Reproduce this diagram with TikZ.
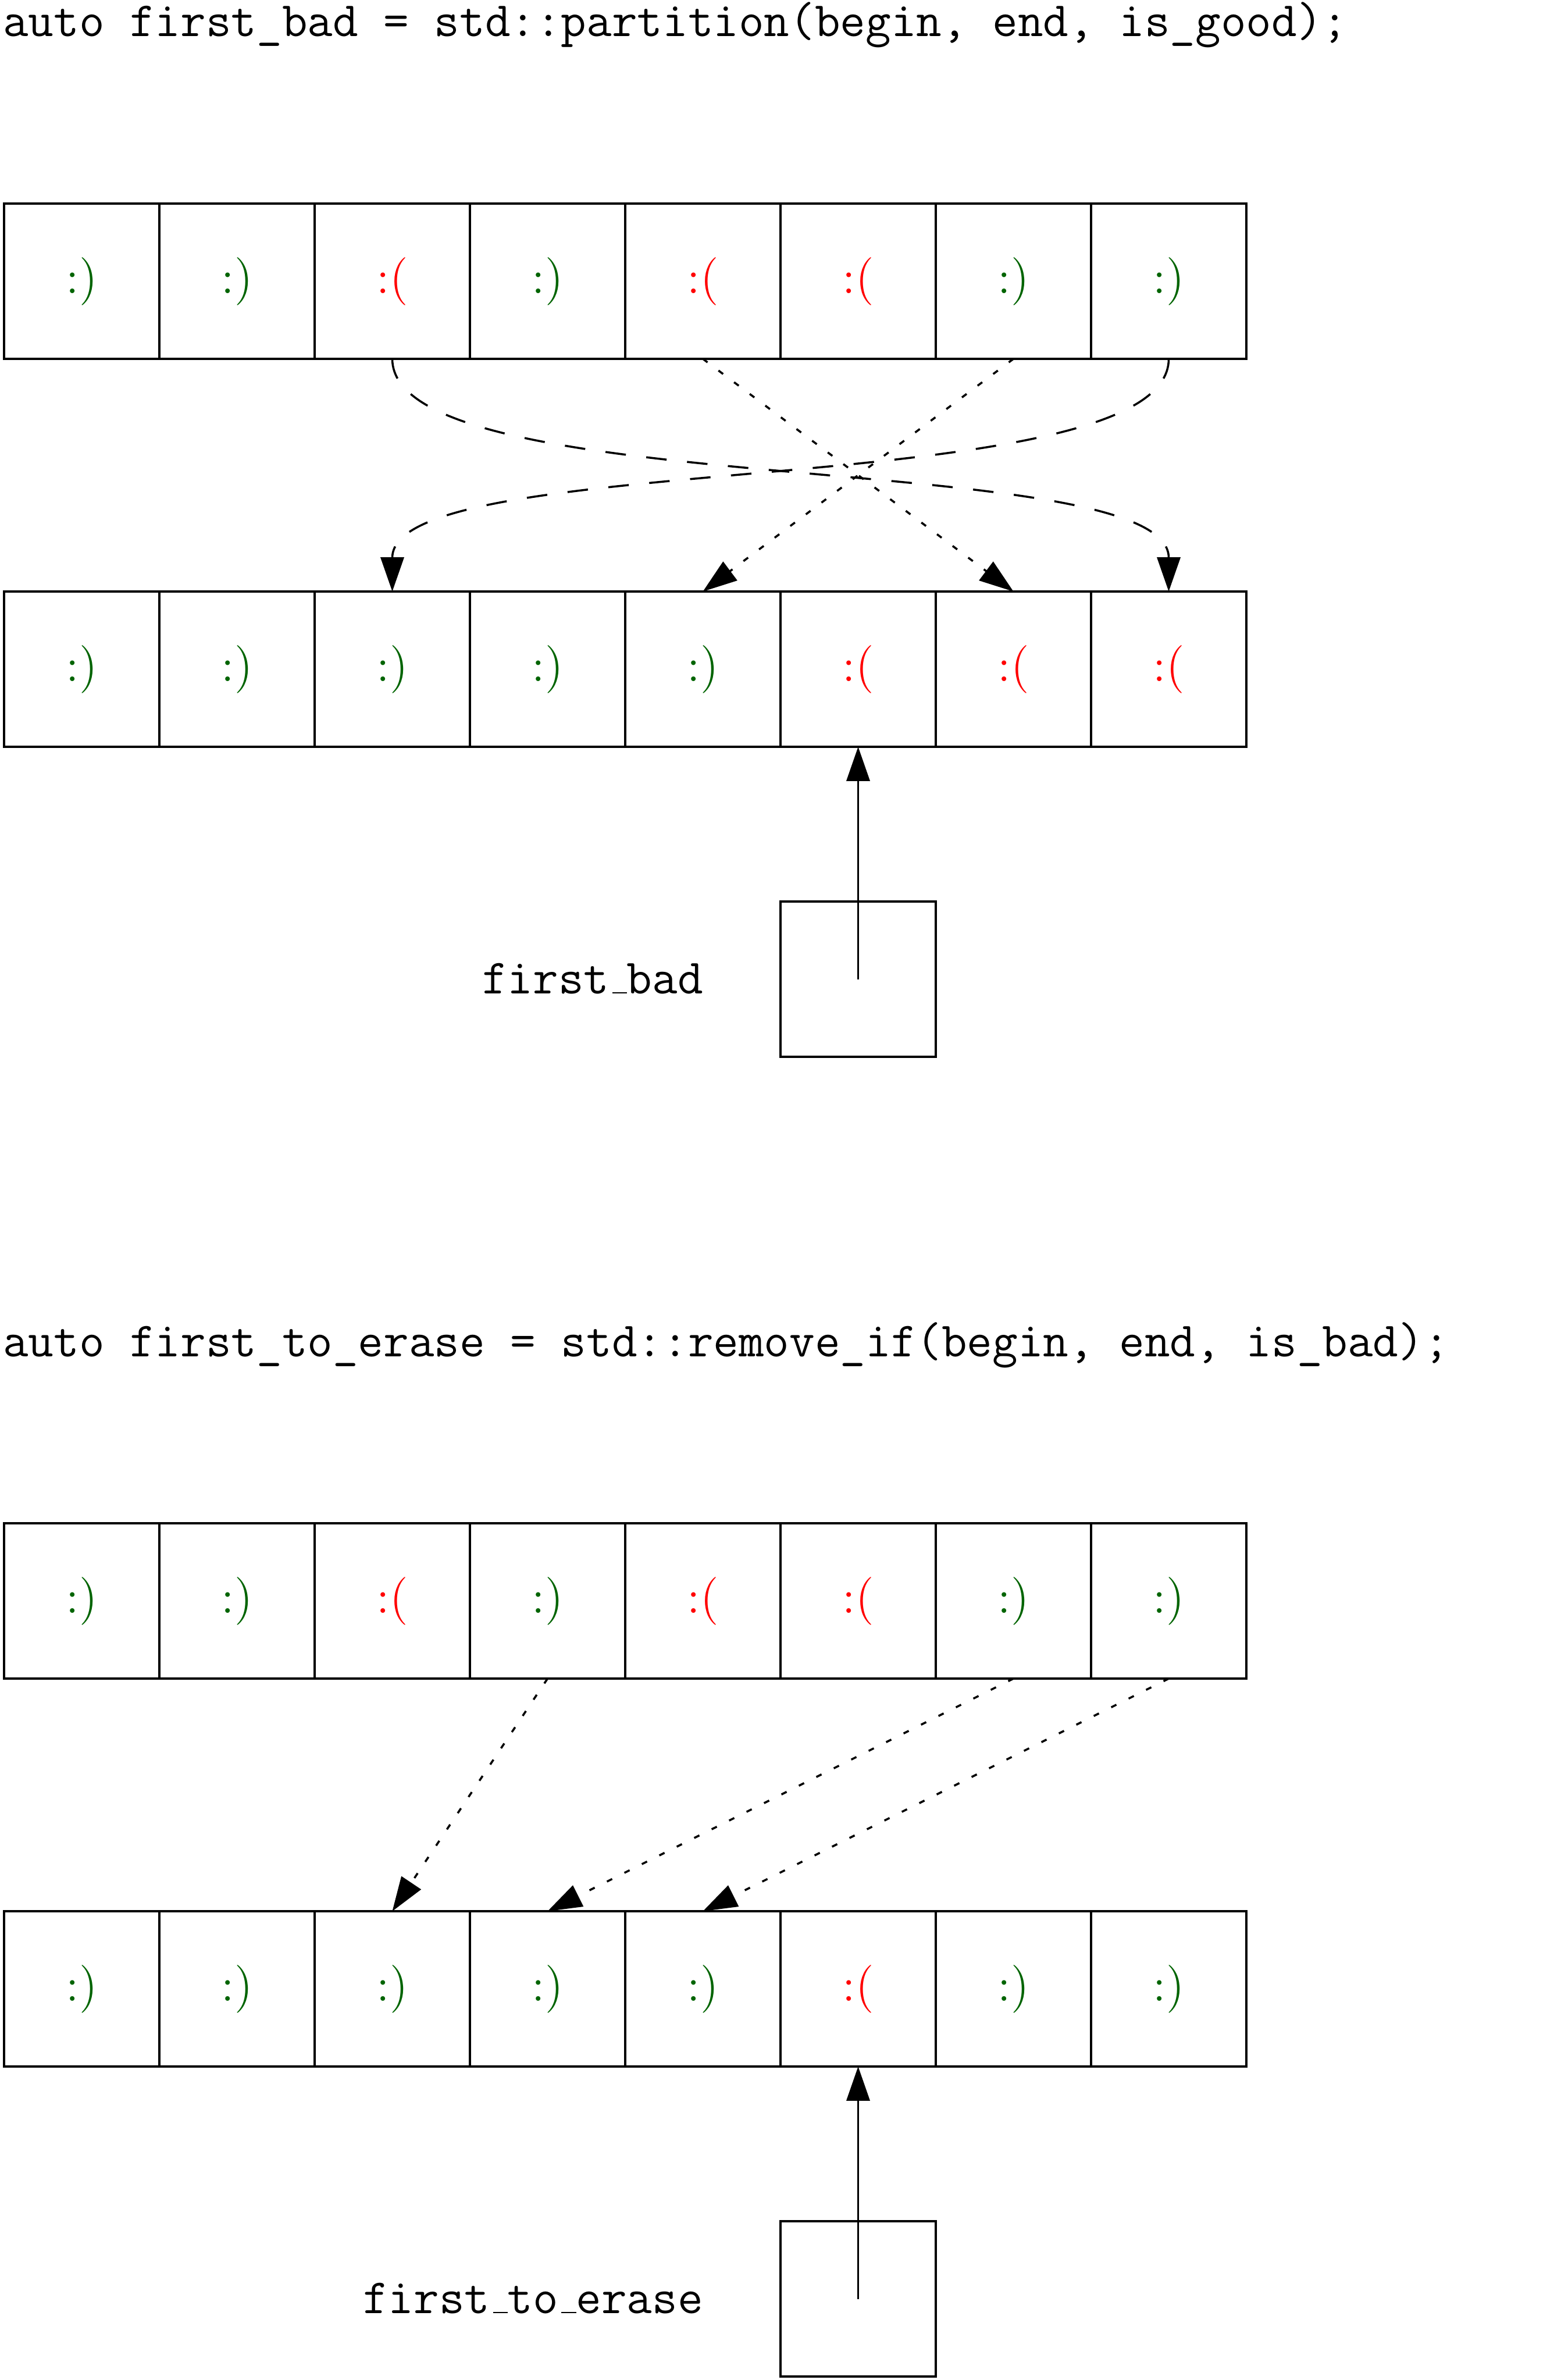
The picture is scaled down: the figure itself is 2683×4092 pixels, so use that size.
\documentclass[tikz,border=0pt]{standalone}
\usepackage{fontspec}
\usetikzlibrary{arrows.meta}
\definecolor{smilegreen}{RGB}{0,100,0}
\definecolor{frownred}{RGB}{255,0,0}
\newcommand{\ulbar}{\leavevmode\kern.06em\vbox{\hrule width.3em}}
\begin{document}
\begin{tikzpicture}[x=0.17pt,y=-0.17pt,
  every node/.style={font=\fontsize{14}{17}\selectfont},
  cell/.style={draw, line width=0.6pt, minimum size=45.39pt, inner sep=0pt, outer sep=0pt},
  g/.style={text=smilegreen, execute at begin node={:)}},
  b/.style={text=frownred, execute at begin node={:(}},
  ptrbox/.style={draw, line width=0.6pt, minimum size=45.39pt, inner sep=0pt, outer sep=0pt},
  codetext/.style={anchor=base west, inner sep=0pt, font=\fontsize{14.4}{17}\selectfont\ttfamily},
  labeltext/.style={anchor=base east, inner sep=0pt, font=\fontsize{14.4}{17}\selectfont\ttfamily},
  tip/.style={-{Triangle[length=10pt,width=6.8pt]}},
  dashedge/.style={draw, line width=0.6pt, dash pattern=on 6pt off 6pt, tip},
  dotedge/.style={draw, line width=0.6pt, dash pattern=on 1.7pt off 4pt, tip},
  ptredge/.style={draw, line width=0.6pt, tip}
]
\useasboundingbox (0,0) rectangle (2683,4092);

% ---------- partition ----------
\node[codetext] (code1) at (4,63) {auto first\_bad = std::partition(begin, end, is\_good);};

\foreach \s [count=\j] in {g,g,b,g,b,b,g,g}
  \node[cell,\s] (a\j) at ({140.5+267*(\j-1)},483.5) {};
\foreach \s [count=\j] in {g,g,g,g,g,b,b,b}
  \node[cell,\s] (b\j) at ({140.5+267*(\j-1)},1150.5) {};

\draw[dashedge] (a3.south) .. controls +(0,250) and +(0,-250) .. (b8.north);
\draw[dashedge] (a8.south) .. controls +(0,250) and +(0,-250) .. (b3.north);
\draw[dotedge] (a5.south) -- (b7.north);
\draw[dotedge] (a7.south) -- (b5.north);

\node[ptrbox] (p1) at (1475.5,1683.5) {};
\node[labeltext] (lab1) at (1210,1708) {first\ulbar bad};
\draw[ptredge] (p1.center) -- (b6.south);

% ---------- remove_if ----------
\node[codetext] (code2) at (4,2332) {auto first\_to\_erase = std::remove\_if(begin, end, is\_bad);};

\foreach \s [count=\j] in {g,g,b,g,b,b,g,g}
  \node[cell,\s] (c\j) at ({140.5+267*(\j-1)},2752.5) {};
\foreach \s [count=\j] in {g,g,g,g,g,b,g,g}
  \node[cell,\s] (d\j) at ({140.5+267*(\j-1)},3419.5) {};

\draw[dotedge] (c4.south) -- (d3.north);
\draw[dotedge] (c7.south) -- (d4.north);
\draw[dotedge] (c8.south) -- (d5.north);

\node[ptrbox] (p2) at (1475.5,3952.5) {};
\node[labeltext] (lab2) at (1210,3977) {first\ulbar to\ulbar erase};
\draw[ptredge] (p2.center) -- (d6.south);
\end{tikzpicture}
\end{document}
